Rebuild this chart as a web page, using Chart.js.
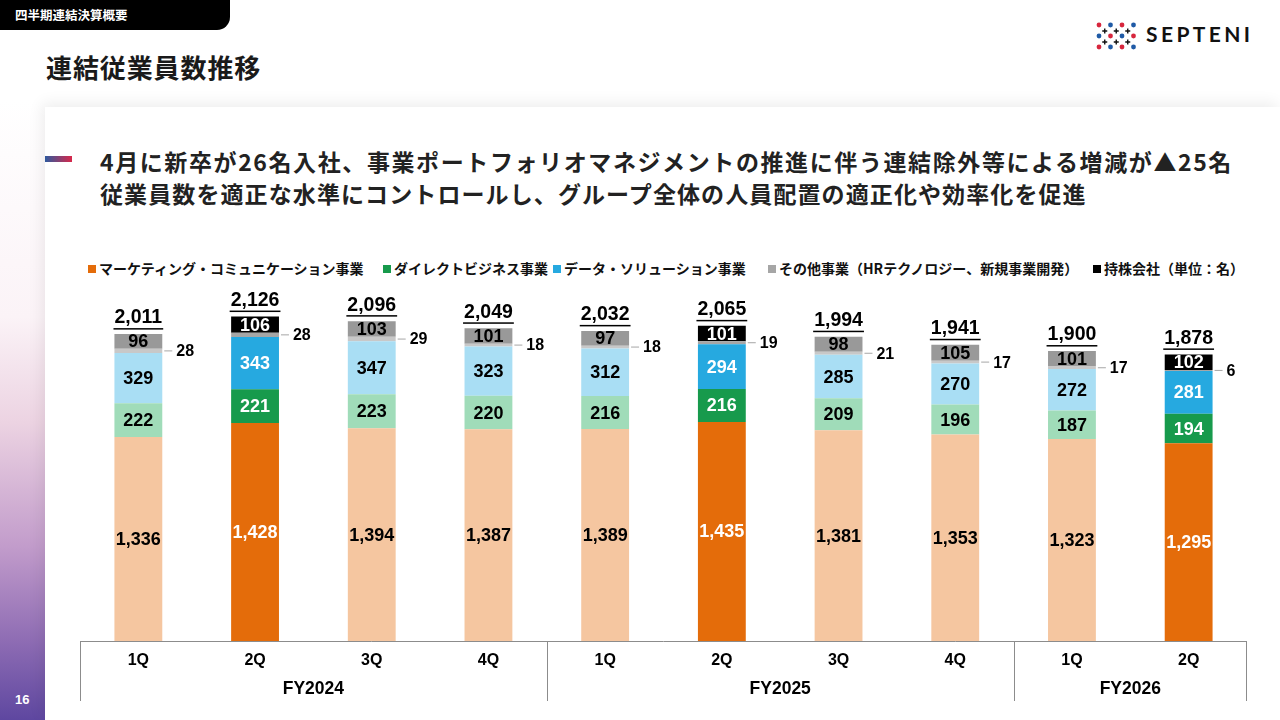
<!DOCTYPE html>
<html lang="ja">
<head>
<meta charset="utf-8">
<title>連結従業員数推移</title>
<script src="https://cdn.jsdelivr.net/npm/chart.js@4.4.1/dist/chart.umd.min.js"></script>
<style>
  html, body { margin: 0; padding: 0; }
  body { width: 1280px; height: 720px; position: relative; overflow: hidden; background: #fff;
         font-family: "Noto Sans CJK JP", "Noto Sans", sans-serif; color: #1a1a1a; }
  .tab { position: absolute; left: 0; top: 0; width: 230px; height: 30px; background: #000;
         border-bottom-right-radius: 13px; color: #fff; font-weight: 700; font-size: 12.5px;
         line-height: 29px; padding-left: 15px; box-sizing: border-box; }
  .title { position: absolute; left: 46px; top: 48px; font-size: 26px; font-weight: 700; letter-spacing: 0.9px; }
  .logo { position: absolute; left: 1094px; top: 20px; }
  .logo-text { position: absolute; left: 1146px; top: 21px; font-family: Lato, "Open Sans", sans-serif;
               font-size: 21px; font-weight: 700; letter-spacing: 3.4px; color: #111; }
  .strip { position: absolute; left: 0; top: 100px; width: 45px; height: 620px;
           background: linear-gradient(to bottom, #ffffff 0%, #fbf3f7 35%, #ecd3e2 52%, #c29ccb 72%, #8f6db4 87%, #5e47a0 100%); }
  .pageno { position: absolute; left: 15px; top: 692px; color: #fff; font-family: "Liberation Sans", Arial, sans-serif;
            font-size: 13px; font-weight: 700; }
  .card { position: absolute; left: 45px; top: 107px; right: 0; bottom: 0; background: #fff;
          box-shadow: -3px -4px 14px rgba(0,0,0,0.07); }
  .mark { position: absolute; left: 45px; top: 156px; width: 27px; height: 6px;
          background: linear-gradient(to right, #2e5a9e, #d8284a); }
  .sub { position: absolute; left: 100px; font-size: 23px; font-weight: 700; color: #222; white-space: nowrap; }
  .legend-item { position: absolute; top: 258px; font-size: 14px; font-weight: 700; white-space: nowrap; color: #111; }
  .legend-item i { display: inline-block; width: 8px; height: 8px; margin-right: 3px; vertical-align: 1px; }
  #wrap { position: absolute; left: 80px; top: 290px; width: 1167px; height: 430px; }
</style>
</head>
<body>
<div class="tab">四半期連結決算概要</div>
<div class="title">連結従業員数推移</div>
<svg class="logo" width="48" height="34" viewBox="0 0 48 34">
  <g>
    <circle cx="5" cy="5" r="2.4" fill="#d7263d"/><circle cx="16.5" cy="5" r="2.4" fill="#1f5aa6"/>
    <circle cx="28" cy="5" r="2.4" fill="#d7263d"/><circle cx="39.5" cy="5" r="2.4" fill="#1f5aa6"/>
    <circle cx="5" cy="16" r="2.4" fill="#1f5aa6"/><circle cx="16.5" cy="16" r="2.4" fill="#d7263d"/>
    <circle cx="28" cy="16" r="2.4" fill="#1f5aa6"/><circle cx="39.5" cy="16" r="2.4" fill="#d7263d"/>
    <circle cx="5" cy="27" r="2.4" fill="#d7263d"/><circle cx="16.5" cy="27" r="2.4" fill="#1f5aa6"/>
    <circle cx="28" cy="27" r="2.4" fill="#d7263d"/><circle cx="39.5" cy="27" r="2.4" fill="#1f5aa6"/>
  </g>
  <g stroke="#111" stroke-width="1.4">
    <path d="M10.75 8.5v5M8.25 11h5M22.25 8.5v5M19.75 11h5M33.75 8.5v5M31.25 11h5"/>
    <path d="M10.75 19.5v5M8.25 22h5M22.25 19.5v5M19.75 22h5M33.75 19.5v5M31.25 22h5"/>
  </g>
</svg>
<div class="logo-text">SEPTENI</div>
<div class="strip"></div>
<div class="pageno">16</div>
<div class="card"></div>
<div class="mark"></div>
<div class="sub" style="top:144px; letter-spacing:1.6px">4月に新卒が26名入社、事業ポートフォリオマネジメントの推進に伴う連結除外等による増減が▲25名</div>
<div class="sub" style="top:176px; letter-spacing:1.1px">従業員数を適正な水準にコントロールし、グループ全体の人員配置の適正化や効率化を促進</div>
<div id="legend"></div>
<div id="wrap"><canvas id="employeesChart"></canvas></div>

<script>
// quarters and fiscal years
const quarters = ['1Q', '2Q', '3Q', '4Q', '1Q', '2Q', '3Q', '4Q', '1Q', '2Q'];
const fiscalYears = ['FY2024', 'FY2025', 'FY2026'];
const yearSizes = [4, 4, 2];

// headcount by segment (persons)
const marketing = [1336, 1428, 1394, 1387, 1389, 1435, 1381, 1353, 1323, 1295];
const direct = [222, 221, 223, 220, 216, 216, 209, 196, 187, 194];
const dataSolution = [329, 343, 347, 323, 312, 294, 285, 270, 272, 281];
const others = [28, 28, 29, 18, 18, 19, 21, 17, 17, 6];
const holding = [96, 106, 103, 101, 97, 101, 98, 105, 101, 102];

const seriesNames = ['マーケティング・コミュニケーション事業', 'ダイレクトビジネス事業', 'データ・ソリューション事業',
    'その他事業（HRテクノロジー、新規事業開発）', '持株会社（単位：名）'];

// strong colour for the 2Q bars, pale colour for the rest
const strongColors = ['#e46c0a', '#179a4c', '#26a9e0', '#a6a6a6', '#000000'];
const paleColors = ['#f5c6a0', '#a0dcb9', '#a9def4', '#c8c8c8', '#999999'];
const strongText = ['#ffffff', '#ffffff', '#ffffff', '#000000', '#ffffff'];

const legendX = [88, 383, 553, 768, 1093];

const numFont = '"Liberation Sans", Arial, sans-serif';
const isStrong = i => quarters[i] === '2Q';
const fmt = v => v.toLocaleString('en-US');

// legend (html)
const legendEl = document.getElementById('legend');
seriesNames.forEach((name, k) => {
    const d = document.createElement('div');
    d.className = 'legend-item';
    d.style.left = legendX[k] + 'px';
    d.innerHTML = '<i style="background:' + strongColors[k] + '"></i>' + name;
    legendEl.appendChild(d);
});

const seriesValues = [marketing, direct, dataSolution, others, holding];

const datasets = seriesValues.map((vals, k) => ({
    label: seriesNames[k],
    data: vals,
    backgroundColor: vals.map((v, i) => isStrong(i) ? strongColors[k] : paleColors[k]),
    borderWidth: 0,
    categoryPercentage: 1,
    barPercentage: 0.41
}));

// labels inside segments, "other" beside the bar, totals on top
const labelPlugin = {
    id: 'labelPlugin',
    afterDatasetsDraw(chart) {
        const ctx = chart.ctx;
        ctx.save();
        ctx.textBaseline = 'middle';
        chart.data.datasets.forEach((ds, k) => {
            const meta = chart.getDatasetMeta(k);
            meta.data.forEach((bar, i) => {
                const p = bar.getProps(['x', 'y', 'base', 'width'], true);
                const cy = (p.y + p.base) / 2;
                if (k === 3) {
                    const x0 = p.x + p.width / 2;
                    ctx.strokeStyle = '#a6a6a6';
                    ctx.lineWidth = 1;
                    ctx.beginPath();
                    ctx.moveTo(x0 + 2, cy);
                    ctx.lineTo(x0 + 10, cy);
                    ctx.stroke();
                    ctx.fillStyle = '#000';
                    ctx.textAlign = 'left';
                    ctx.font = 'bold 16px ' + numFont;
                    ctx.fillText(fmt(ds.data[i]), x0 + 14, cy + 1);
                    return;
                }
                ctx.fillStyle = isStrong(i) ? strongText[k] : '#000';
                ctx.textAlign = 'center';
                ctx.font = 'bold 18px ' + numFont;
                ctx.fillText(fmt(ds.data[i]), p.x, cy + 1);
            });
        });
        // totals
        const topMeta = chart.getDatasetMeta(seriesValues.length - 1);
        topMeta.data.forEach((bar, i) => {
            const total = seriesValues.reduce((s, arr) => s + arr[i], 0);
            const txt = fmt(total);
            ctx.font = 'bold 19.5px ' + numFont;
            ctx.fillStyle = '#000';
            ctx.textAlign = 'center';
            ctx.fillText(txt, bar.x, bar.y - 16);
            const w = ctx.measureText(txt).width;
            ctx.fillRect(bar.x - w / 2 - 1, bar.y - 6, w + 2, 1.5);
        });
        ctx.restore();
    }
};

// two-level category axis with group dividers
const axisPlugin = {
    id: 'axisPlugin',
    afterDraw(chart) {
        const ctx = chart.ctx;
        const area = chart.chartArea;
        const xs = chart.scales.x;
        const base = area.bottom;
        ctx.save();
        ctx.strokeStyle = '#8c8c8c';
        ctx.lineWidth = 1;
        ctx.beginPath();
        ctx.moveTo(area.left, base + 0.5);
        ctx.lineTo(area.right, base + 0.5);
        let idx = 0;
        const dividers = [area.left + 0.5];
        yearSizes.forEach((n, g) => {
            idx += n;
            if (idx < quarters.length) {
                dividers.push(Math.round((xs.getPixelForValue(idx - 1) + xs.getPixelForValue(idx)) / 2) + 0.5);
            }
        });
        dividers.push(area.right - 0.5);
        dividers.forEach(x => {
            ctx.moveTo(x, base);
            ctx.lineTo(x, base + 60);
        });
        ctx.stroke();

        ctx.fillStyle = '#000';
        ctx.textAlign = 'center';
        ctx.textBaseline = 'middle';
        ctx.font = 'bold 16px ' + numFont;
        quarters.forEach((q, i) => ctx.fillText(q, xs.getPixelForValue(i), base + 20));
        ctx.font = 'bold 17.5px ' + numFont;
        idx = 0;
        fiscalYears.forEach((fy, g) => {
            const first = idx, last = idx + yearSizes[g] - 1;
            ctx.fillText(fy, (xs.getPixelForValue(first) + xs.getPixelForValue(last)) / 2, base + 48);
            idx += yearSizes[g];
        });
        ctx.restore();
    }
};

new Chart(document.getElementById('employeesChart').getContext('2d'), {
    type: 'bar',
    data: { labels: quarters, datasets: datasets },
    options: {
        responsive: true,
        maintainAspectRatio: false,
        animation: false,
        layout: { padding: { top: 0, bottom: 79, left: 0, right: 0 } },
        plugins: { legend: { display: false }, tooltip: { enabled: false } },
        scales: {
            x: { stacked: true, display: false },
            y: { stacked: true, display: false, min: 0, max: 2300 }
        }
    },
    plugins: [labelPlugin, axisPlugin]
});
</script>
</body>
</html>
